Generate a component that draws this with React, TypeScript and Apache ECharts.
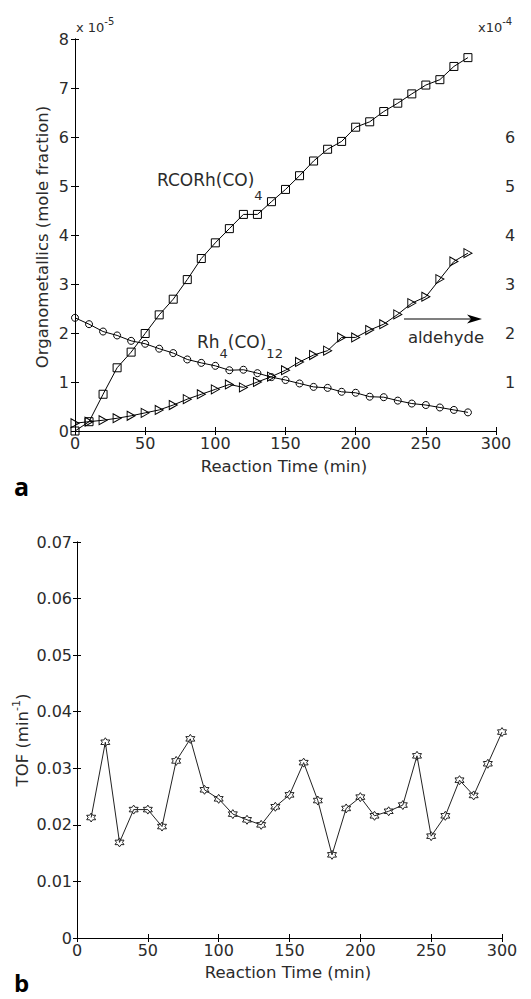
import React, { useEffect, useRef } from "react";
import * as echarts from "echarts";

// ---------- data (panel a) ----------
const timesA = [0, 10, 20, 30, 40, 50, 60, 70, 80, 90, 100, 110, 120, 130, 140, 150, 160, 170, 180, 190, 200, 210, 220, 230, 240, 250, 260, 270, 280];
// RCORh(CO)4, x 10^-5 mole fraction
const rcorh = [0, 0.19, 0.75, 1.29, 1.61, 1.99, 2.37, 2.69, 3.09, 3.52, 3.84, 4.13, 4.42, 4.42, 4.68, 4.93, 5.21, 5.51, 5.75, 5.91, 6.2, 6.31, 6.52, 6.69, 6.88, 7.06, 7.17, 7.44, 7.62];
// Rh4(CO)12, x 10^-5 mole fraction
const rh4 = [2.31, 2.18, 2.03, 1.95, 1.84, 1.78, 1.68, 1.59, 1.46, 1.39, 1.33, 1.24, 1.25, 1.18, 1.1, 1.04, 0.97, 0.9, 0.88, 0.8, 0.78, 0.7, 0.69, 0.62, 0.56, 0.53, 0.48, 0.43, 0.38];
// aldehyde, x 10^-4 (right axis)
const aldehyde = [0.16, 0.19, 0.22, 0.26, 0.31, 0.37, 0.43, 0.53, 0.65, 0.75, 0.85, 0.95, 0.89, 1.0, 1.11, 1.24, 1.41, 1.55, 1.64, 1.91, 1.91, 2.06, 2.18, 2.38, 2.61, 2.74, 3.1, 3.46, 3.63];
const leftTicksA = [0, 1, 2, 3, 4, 5, 6, 7, 8];
const rightTickLabelsA = [1, 2, 3, 4, 5, 6];

// ---------- data (panel b) ----------
const timesB = [10, 20, 30, 40, 50, 60, 70, 80, 90, 100, 110, 120, 130, 140, 150, 160, 170, 180, 190, 200, 210, 220, 230, 240, 250, 260, 270, 280, 290, 300];
const tof = [0.0213, 0.0346, 0.0169, 0.0227, 0.0227, 0.0197, 0.0313, 0.0352, 0.0262, 0.0246, 0.0219, 0.0209, 0.02, 0.0232, 0.0253, 0.031, 0.0243, 0.0147, 0.0229, 0.0249, 0.0216, 0.0224, 0.0235, 0.0322, 0.018, 0.0216, 0.0279, 0.0252, 0.0308, 0.0364];

const FONT = '"DejaVu Sans", "Liberation Sans", Arial, sans-serif';
const TXT = "#2b2b2b";

function hexagramPath(): string {
  const pts: string[] = [];
  for (let i = 0; i < 12; i++) {
    const ang = (-90 + i * 30) * (Math.PI / 180);
    const r = i % 2 === 0 ? 10 : 10 / Math.sqrt(3);
    pts.push(`${(r * Math.cos(ang)).toFixed(3)} ${(r * Math.sin(ang)).toFixed(3)}`);
  }
  return "path://M" + pts.join(" L") + " Z";
}

let measureCtx: CanvasRenderingContext2D | null = null;
function textWidth(text: string, size: number): number {
  if (!measureCtx) measureCtx = document.createElement("canvas").getContext("2d");
  if (!measureCtx) return text.length * size * 0.6;
  measureCtx.font = `${size}px ${FONT}`;
  return measureCtx.measureText(text).width;
}

type Part = [string, number, number]; // text, fontSize, dy
function runText(x: number, y: number, parts: Part[], center = false): any[] {
  const widths = parts.map((p) => textWidth(p[0], p[1]));
  const total = widths.reduce((a, b) => a + b, 0);
  let cx = center ? x - total / 2 : x;
  return parts.map((p, i) => {
    const el = {
      type: "text",
      x: cx,
      y: y + p[2],
      style: {
        text: p[0],
        font: `${p[1]}px ${FONT}`,
        fill: TXT,
        align: "left",
        verticalAlign: "middle",
        textAlign: "left",
        textVerticalAlign: "middle",
      },
    };
    cx += widths[i];
    return el;
  });
}

export default function App() {
  const ref = useRef<HTMLDivElement>(null);

  useEffect(() => {
    document.body.style.margin = "0";
    if (!ref.current) return;
    const chart = echarts.init(ref.current, undefined, { renderer: "svg" });

    const tickStyle = { show: true, inside: true, length: 4, lineStyle: { color: "#000", width: 1 } };
    const axisLine = { show: true, lineStyle: { color: "#000", width: 1 } };
    const label = (margin: number, extra: any = {}) => ({
      show: true,
      color: TXT,
      fontSize: 16,
      fontFamily: FONT,
      margin,
      ...extra,
    });

    const hex = hexagramPath();

    const option: any = {
      animation: false,
      backgroundColor: "#fff",
      grid: [
        { left: 75, top: 39, width: 421, height: 392, show: false },
        { left: 77, top: 542, width: 425, height: 396, show: false },
      ],
      xAxis: [
        { type: "value", gridIndex: 0, position: "bottom", min: 0, max: 300, interval: 50, axisLine, axisTick: tickStyle, axisLabel: label(4), splitLine: { show: false } },
        { type: "value", gridIndex: 0, position: "top", min: 0, max: 300, interval: 50, axisLine, axisTick: tickStyle, axisLabel: { show: false }, splitLine: { show: false } },
        { type: "value", gridIndex: 1, position: "bottom", min: 0, max: 300, interval: 50, axisLine, axisTick: tickStyle, axisLabel: label(4), splitLine: { show: false } },
        { type: "value", gridIndex: 1, position: "top", min: 0, max: 300, interval: 50, axisLine, axisTick: tickStyle, axisLabel: { show: false }, splitLine: { show: false } },
      ],
      yAxis: [
        {
          type: "value", gridIndex: 0, position: "left", min: leftTicksA[0], max: leftTicksA[leftTicksA.length - 1], interval: 1,
          axisLine, axisTick: tickStyle, splitLine: { show: false },
          axisLabel: label(6),
        },
        {
          type: "value", gridIndex: 0, position: "right", min: 0, max: 8, interval: 1,
          axisLine, axisTick: tickStyle, splitLine: { show: false },
          axisLabel: label(9, { formatter: (v: number) => (rightTickLabelsA.indexOf(Math.round(v)) >= 0 ? String(Math.round(v)) : "") }),
        },
        {
          type: "value", gridIndex: 1, position: "left", min: 0, max: 0.07, interval: 0.01,
          axisLine, axisTick: tickStyle, splitLine: { show: false },
          axisLabel: label(5, { formatter: (v: number) => (Math.abs(v) < 1e-9 ? "0" : v.toFixed(2)) }),
        },
        {
          type: "value", gridIndex: 1, position: "right", min: 0, max: 0.07, interval: 0.01,
          axisLine, axisTick: tickStyle, splitLine: { show: false }, axisLabel: { show: false },
        },
      ],
      series: [
        {
          name: "RCORh(CO)4", type: "line", xAxisIndex: 0, yAxisIndex: 0,
          data: timesA.map((t, i) => [t, rcorh[i]]),
          symbol: "rect", symbolSize: 8,
          lineStyle: { color: "#000", width: 1 },
          itemStyle: { color: "rgba(255,255,255,0)", borderColor: "#000", borderWidth: 1 },
          z: 3,
        },
        {
          name: "Rh4(CO)12", type: "line", xAxisIndex: 0, yAxisIndex: 0,
          data: timesA.map((t, i) => [t, rh4[i]]),
          symbol: "circle", symbolSize: 7,
          lineStyle: { color: "#000", width: 1 },
          itemStyle: { color: "rgba(255,255,255,0)", borderColor: "#000", borderWidth: 1 },
          z: 3,
        },
        {
          name: "aldehyde", type: "line", xAxisIndex: 0, yAxisIndex: 1,
          data: timesA.map((t, i) => [t, aldehyde[i]]),
          symbol: "path://M0 0 L10 5 L0 10 Z", symbolSize: [8, 9],
          lineStyle: { color: "#000", width: 1 },
          itemStyle: { color: "rgba(255,255,255,0)", borderColor: "#000", borderWidth: 1 },
          z: 3,
        },
        {
          name: "TOF", type: "line", xAxisIndex: 2, yAxisIndex: 2,
          data: timesB.map((t, i) => [t, tof[i]]),
          symbol: hex, symbolSize: 9,
          lineStyle: { color: "#222", width: 1 },
          itemStyle: { color: "rgba(255,255,255,0)", borderColor: "#222", borderWidth: 1 },
          z: 3,
        },
      ],
      graphic: [
        // exponents
        ...runText(76, 27, [["x 10", 13, 0], ["-5", 10, -6]]),
        ...runText(478, 27, [["x10", 13, 0], ["-4", 10, -6]]),
        // annotations
        ...runText(157, 180, [["RCORh(CO)", 17, 0], ["4", 13, 15]]),
        ...runText(197, 342, [["Rh", 17, 0], ["4", 13, 11], ["(CO)", 17, 0], ["12", 13, 11]]),
        { type: "line", shape: { x1: 404, y1: 319, x2: 474, y2: 319 }, style: { stroke: "#000", lineWidth: 1.2 } },
        { type: "polygon", shape: { points: [[467, 314.5], [482, 319], [467, 323.5], [471, 319]] }, style: { fill: "#000" } },
        ...runText(446, 337, [["aldehyde", 16.5, 0]], true),
        // axis titles, panel a
        ...runText(284, 466, [["Reaction Time (min)", 16.5, 0]], true),
        {
          type: "group", x: 42, y: 237, rotation: Math.PI / 2,
          children: runText(0, 0, [["Organometallics (mole fraction)", 16.5, 0]], true),
        },
        // axis titles, panel b
        ...runText(288, 972, [["Reaction Time (min)", 16.5, 0]], true),
        {
          type: "group", x: 22, y: 740, rotation: Math.PI / 2,
          children: runText(0, 0, [["TOF (min", 16.5, 0], ["-1", 11, -6], [")", 16.5, 0]], true),
        },
        // panel labels
        { type: "text", x: 14, y: 486, style: { text: "a", font: `bold 25px "Open Sans", ${FONT}`, fill: "#000", verticalAlign: "middle", textVerticalAlign: "middle" } },
        { type: "text", x: 14, y: 982, style: { text: "b", font: `bold 24px "Open Sans", ${FONT}`, fill: "#000", verticalAlign: "middle", textVerticalAlign: "middle" } },
      ],
    };

    chart.setOption(option);
    return () => chart.dispose();
  }, []);

  return <div ref={ref} style={{ width: 531, height: 999 }} />;
}
